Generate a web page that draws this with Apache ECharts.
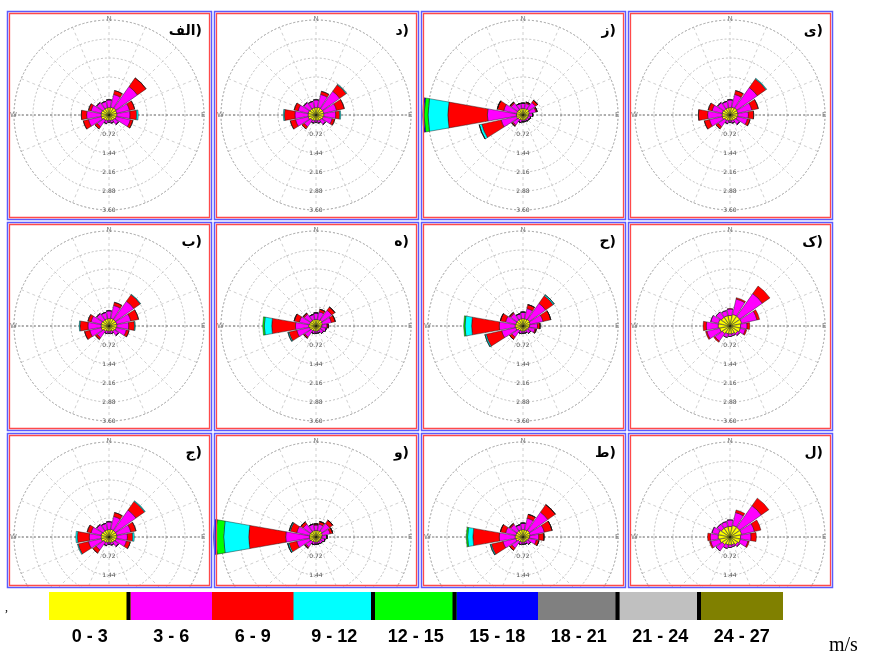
<!DOCTYPE html>
<html><head><meta charset="utf-8">
<script src="https://cdn.jsdelivr.net/npm/echarts@6/dist/echarts.min.js"></script>
<style>html,body{margin:0;padding:0;background:#fff}#c{width:885px;height:657px}</style>
</head><body><div id="c"></div>
<script>
// 16 wind directions, clockwise from North
const directions = ['N','NNE','NE','ENE','E','ESE','SE','SSE','S','SSW','SW','WSW','W','WNW','NW','NNW'];
const speedClasses = ['0 - 3','3 - 6','6 - 9','9 - 12','12 - 15','15 - 18','18 - 21','21 - 24','24 - 27'];
const classColors = ['#ffff00','#ff00ff','#ff0000','#00ffff','#00ff00','#0000ff','#808080','#c0c0c0','#808000'];
const legendSeparatorAfter = [0,3,4,6,7];
const ringLabels = ['0.72','1.44','2.16','2.88','3.60'];
const ringMax = 3.6, ringStep = 0.72;
const compassLabels = {90:'W',180:'N',270:'E'};
// panel labels, row-major (4 columns x 3 rows)
const panelLabels = ['الف)','د)','ز)','ی)','ب)','ه)','ح)','ک)','ج)','و)','ط)','ل)'];

// frequency (%) per speed class (rows) per direction (columns)
const alef = [
 [.28,.3,.32,.3,.3,.28,.25,.22,.2,.22,.25,.3,.3,.3,.28,.28],
 [.3,.5,1.0,.5,.5,.55,.2,.1,.08,.12,.3,.5,.55,.4,.3,.25],
 [0,.15,.4,.2,.25,.1,0,0,0,0,.1,.2,.2,.1,0,0],
 [0,0,0,0,.06,0,0,0,0,0,0,0,0,0,0,0]];
const dal = [
 [.28,.3,.3,.3,.3,.28,.25,.22,.2,.22,.25,.3,.3,.3,.28,.28],
 [.3,.5,.8,.5,.45,.35,.2,.1,.08,.1,.3,.5,.5,.4,.3,.25],
 [0,.12,.3,.3,.15,.1,0,0,0,0,.1,.2,.4,.15,0,0],
 [0,0,.03,0,.04,0,0,0,0,0,0,0,.04,0,0,0]];
const ze = [
 [.25,.25,.28,.25,.22,.2,.2,.2,.2,.2,.22,.25,.25,.25,.25,.25],
 [.2,.2,.3,.25,.15,.1,.08,.06,.06,.1,.25,.6,1.1,.5,.3,.2],
 [0,.05,.1,.05,0,0,0,0,0,0,.05,.75,1.5,.25,.05,0],
 [0,0,0,0,0,0,0,0,0,0,0,.1,.75,0,0,0],
 [0,0,0,0,0,0,0,0,0,0,0,0,.15,0,0,0],
 [0,0,0,0,0,0,0,0,0,0,0,0,.05,0,0,0]];
const ye = [
 [.28,.3,.32,.3,.3,.28,.25,.22,.2,.22,.25,.3,.3,.3,.28,.28],
 [.3,.5,.95,.55,.4,.4,.2,.1,.08,.12,.3,.5,.55,.4,.3,.25],
 [0,.15,.4,.25,.2,.1,0,0,0,0,.1,.2,.35,.15,0,0],
 [0,0,.03,0,0,0,0,0,0,0,0,0,0,0,0,0]];
const be = [
 [.28,.3,.3,.3,.3,.28,.25,.2,.2,.2,.25,.3,.3,.3,.28,.28],
 [.3,.5,.85,.55,.45,.4,.2,.1,.08,.1,.3,.45,.5,.4,.3,.25],
 [0,.12,.3,.3,.22,.1,0,0,0,0,.08,.2,.3,.12,0,0],
 [0,0,.02,0,.03,0,0,0,0,0,0,0,.03,0,0,0]];
const he = [
 [.25,.25,.28,.25,.22,.2,.2,.2,.2,.2,.22,.25,.28,.25,.25,.25],
 [.25,.3,.45,.35,.2,.2,.15,.08,.08,.1,.3,.5,.5,.4,.3,.2],
 [0,.1,.15,.15,.05,0,0,0,0,0,.05,.3,.9,.2,.05,0],
 [0,0,0,0,0,0,0,0,0,0,0,.04,.28,0,0,0],
 [0,0,0,0,0,0,0,0,0,0,0,0,.06,0,0,0]];
const heh = [
 [.28,.28,.3,.28,.25,.22,.2,.2,.2,.2,.22,.28,.3,.28,.28,.28],
 [.25,.4,.75,.5,.3,.25,.15,.08,.08,.1,.3,.55,.6,.4,.3,.2],
 [0,.15,.35,.3,.1,.05,0,0,0,0,.1,.6,1.05,.2,.05,0],
 [0,0,.05,0,0,0,0,0,0,0,0,.05,.25,0,0,0],
 [0,0,0,0,0,0,0,0,0,0,0,0,.05,0,0,0]];
const kaf = [
 [.4,.45,.45,.45,.4,.4,.35,.3,.3,.3,.35,.4,.45,.45,.4,.4],
 [.25,.6,1.05,.6,.25,.2,.1,.08,.1,.15,.35,.5,.45,.3,.25,.2],
 [0,.05,.35,.1,.1,.05,0,0,0,0,.05,.05,.12,0,0,0]];
const jim = [
 [.28,.3,.3,.3,.3,.28,.25,.22,.2,.22,.25,.3,.3,.3,.28,.28],
 [.3,.5,.95,.55,.4,.4,.2,.1,.08,.12,.35,.5,.45,.4,.3,.25],
 [0,.15,.4,.2,.2,.15,0,0,0,0,.15,.4,.45,.15,0,0],
 [0,0,.03,0,.06,0,0,0,0,0,0,.03,.06,0,0,0]];
const vav = [
 [.25,.25,.28,.25,.22,.2,.2,.2,.2,.2,.22,.25,.25,.25,.25,.25],
 [.2,.25,.35,.3,.2,.15,.1,.08,.08,.1,.25,.5,.9,.5,.35,.25],
 [.05,.1,.15,.1,0,0,0,0,0,0,.05,.3,1.4,.25,.1,0],
 [0,0,0,0,0,0,0,0,0,0,0,.05,.95,.04,0,0],
 [0,0,0,0,0,0,0,0,0,0,0,0,.3,0,0,0],
 [0,0,0,0,0,0,0,0,0,0,0,0,.08,0,0,0]];
const ta = [
 [.28,.28,.3,.28,.25,.22,.2,.2,.2,.2,.22,.28,.3,.28,.28,.28],
 [.25,.45,.85,.55,.35,.3,.15,.08,.08,.1,.3,.5,.6,.4,.3,.2],
 [0,.15,.35,.3,.2,.1,0,0,0,0,.1,.45,1.0,.2,.05,0],
 [0,0,0,0,0,0,0,0,0,0,0,.04,.2,0,0,0],
 [0,0,0,0,0,0,0,0,0,0,0,0,.05,0,0,0]];
const lam = [
 [.4,.45,.45,.45,.4,.4,.35,.3,.3,.3,.35,.4,.45,.45,.4,.4],
 [.25,.5,1.0,.5,.4,.3,.1,.08,.1,.15,.3,.35,.3,.25,.2,.2],
 [0,.1,.35,.25,.2,.05,0,0,0,0,0,.05,.1,0,0,0]];
const panelData = [alef, dal, ze, ye, be, he, heh, kaf, jim, vav, ta, lam];

// layout
const colCenters = [109, 316, 523, 730];
const rowCenters = [115, 326, 537];
const rowTops = [11, 222, 433];
const rowHeights = [208, 208, 154];
const panelW = 204;
const R = 95, barR = 105;

const chart = echarts.init(document.getElementById('c'), null, {renderer:'canvas'});
const polar = [], angleAxis = [], radiusAxis = [], series = [], graphic = [];

panelData.forEach((rows, i) => {
  const c = i % 4, r = Math.floor(i / 4);
  const cx = colCenters[c], cy = rowCenters[r];
  const base = polar.length;
  // bars
  polar.push({center:[cx, cy], radius:[0, barR]});
  angleAxis.push({polarIndex: base, type:'category', data: directions, startAngle: 90 + 360/32, clockwise:true,
    axisLine:{show:false}, axisTick:{show:false}, axisLabel:{show:false}, splitLine:{show:false}, z:5});
  radiusAxis.push({polarIndex: base, type:'value', min:0, max: ringMax * barR / R, show:false,
    axisLine:{show:false}, axisTick:{show:false}, axisLabel:{show:false}, splitLine:{show:false}});
  // grid
  polar.push({center:[cx, cy], radius:[0, R]});
  angleAxis.push({polarIndex: base+1, type:'value', min:0, max:360, interval:22.5, startAngle:270, clockwise:true,
    axisLine:{show:true, lineStyle:{color:'#aaa', type:[2,2], width:0.8}}, axisTick:{show:false},
    axisLabel:{show:true, margin:-3, fontSize:7, color:'#777', fontFamily:'DejaVu Sans',
      formatter: v => compassLabels[v] || ''},
    splitLine:{show:true, lineStyle:{color:'#c4c4c4', type:[3,3], width:0.8}}, z:1});
  radiusAxis.push({polarIndex: base+1, type:'value', min:0, max:ringMax, interval:ringStep,
    axisLine:{show:false}, axisTick:{show:false},
    axisLabel:{show:true, fontSize:6, color:'#555', margin:0, align:'center', verticalAlign:'middle', fontFamily:'DejaVu Sans',
      formatter: (v, idx) => (idx > 0 ? ringLabels[idx-1] || '' : '')},
    splitLine:{show:true, lineStyle:{color:'#b0b0b0', type:[2,2], width:0.8}}, z:1});
  // E-W axis
  polar.push({center:[cx, cy], radius:[0, R]});
  angleAxis.push({polarIndex: base+2, type:'value', min:0, max:360, interval:180, startAngle:0,
    axisLine:{show:false}, axisTick:{show:false}, axisLabel:{show:false},
    splitLine:{show:true, lineStyle:{color:'#555', type:[2,2], width:0.8}}, z:1});
  radiusAxis.push({polarIndex: base+2, type:'value', min:0, max:1, show:false,
    axisLine:{show:false}, axisTick:{show:false}, axisLabel:{show:false}, splitLine:{show:false}});

  rows.forEach((vals, k) => {
    series.push({type:'bar', coordinateSystem:'polar', polarIndex: base, stack:'p'+i, data: vals,
      barCategoryGap:'12%', silent:true, z:5,
      itemStyle:{color: classColors[k], borderColor:'#111', borderWidth:0.45}});
  });
});

// white cover under panels (bottom row is cut by the legend)
graphic.push({type:'rect', z:50, shape:{x:0, y:588, width:885, height:69}, style:{fill:'#fff'}});

// panel borders and labels
panelData.forEach((rows, i) => {
  const c = i % 4, r = Math.floor(i / 4);
  const x = colCenters[c] - 102, y = rowTops[r], h = rowHeights[r];
  graphic.push({type:'rect', z:60, shape:{x:x+0.5, y:y+0.5, width:panelW, height:h},
    style:{fill:null, stroke:'#5b5bff', lineWidth:1.5}});
  graphic.push({type:'rect', z:60, shape:{x:x+2.5, y:y+2.5, width:panelW-4, height:h-4},
    style:{fill:null, stroke:'#ff4a4a', lineWidth:1.3}});
  graphic.push({type:'text', z:61, style:{x: x + panelW - 9, y: y + 20, text: panelLabels[i],
    textAlign:'right', textVerticalAlign:'middle', font:'bold 14px "DejaVu Sans"', fill:'#000'}});
});

// legend colour bar
const legX = 49, legY = 592, segW = 81.5, legH = 28;
speedClasses.forEach((lab, k) => {
  graphic.push({type:'rect', z:70, shape:{x: legX + k*segW, y: legY, width: segW + 0.5, height: legH},
    style:{fill: classColors[k]}});
  if (legendSeparatorAfter.indexOf(k) >= 0) {
    graphic.push({type:'rect', z:71, shape:{x: legX + (k+1)*segW - 4, y: legY, width: 4, height: legH},
      style:{fill:'#000'}});
  }
  graphic.push({type:'text', z:71, style:{x: legX + (k+0.5)*segW, y: 637, text: lab,
    textAlign:'center', textVerticalAlign:'middle', font:'bold 18px "Liberation Sans Narrow", "Liberation Sans", sans-serif', fill:'#000'}});
});
graphic.push({type:'text', z:71, style:{x: 829, y: 646, text:'m/s', textAlign:'left', textVerticalAlign:'middle',
  font:'20px "Liberation Serif", serif', fill:'#000'}});
graphic.push({type:'text', z:71, style:{x: 5, y: 608, text:',', textAlign:'left', textVerticalAlign:'middle',
  font:'12px "Liberation Serif", serif', fill:'#000'}});

chart.setOption({
  animation:false,
  polar, angleAxis, radiusAxis, series, graphic
});
</script>
</body></html>
